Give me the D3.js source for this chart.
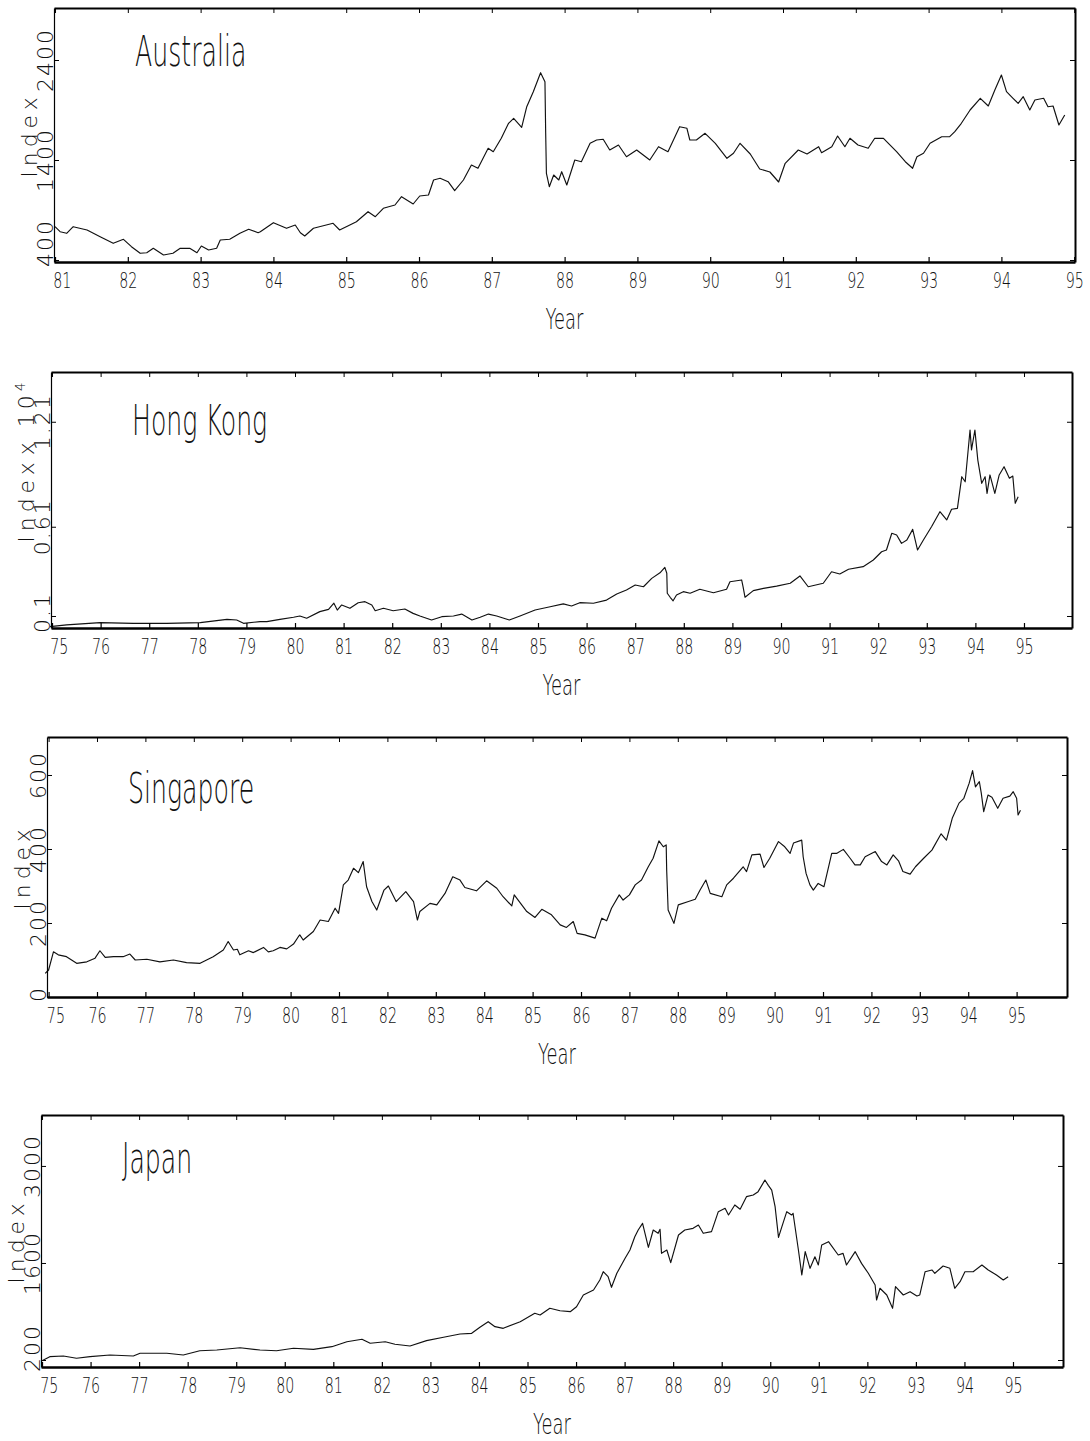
<!DOCTYPE html>
<html>
<head>
<meta charset="utf-8">
<script src="https://cdn.jsdelivr.net/npm/d3@7"></script>
<style>
body { margin: 0; background: #fff; }
svg { display: block; }
</style>
</head>
<body>
<svg id="chart" width="1090" height="1441"></svg>
<script>
// index values, [year, index]
var australiaData = [[81.0,733],[81.07,683],[81.16,667],[81.25,733],[81.44,700],[81.62,633],[81.8,567],[81.94,607],[82.05,533],[82.17,467],[82.26,473],[82.35,517],[82.49,450],[82.62,467],[82.72,517],[82.85,517],[82.95,473],[83.01,540],[83.11,500],[83.22,517],[83.27,600],[83.4,607],[83.54,667],[83.66,707],[83.79,673],[83.82,683],[84.0,773],[84.18,717],[84.3,750],[84.37,673],[84.43,640],[84.55,717],[84.82,767],[84.91,700],[85.14,783],[85.3,883],[85.4,833],[85.51,917],[85.67,950],[85.76,1033],[85.92,960],[86.01,1040],[86.13,1050],[86.2,1200],[86.29,1217],[86.4,1183],[86.49,1093],[86.61,1200],[86.72,1350],[86.81,1317],[86.95,1517],[87.02,1483],[87.13,1617],[87.23,1767],[87.3,1817],[87.41,1727],[87.48,1933],[87.57,2083],[87.67,2273],[87.73,2183],[87.74,1670],[87.75,1267],[87.79,1133],[87.85,1250],[87.92,1200],[87.96,1283],[88.03,1150],[88.14,1400],[88.23,1383],[88.35,1567],[88.44,1600],[88.53,1607],[88.62,1500],[88.74,1550],[88.85,1433],[88.99,1500],[89.17,1400],[89.29,1533],[89.42,1483],[89.58,1733],[89.68,1717],[89.72,1600],[89.81,1600],[89.93,1667],[90.07,1567],[90.23,1417],[90.32,1467],[90.41,1567],[90.55,1460],[90.68,1310],[90.82,1280],[90.94,1180],[91.03,1367],[91.21,1500],[91.33,1460],[91.49,1533],[91.53,1473],[91.67,1533],[91.75,1640],[91.85,1533],[91.92,1617],[92.03,1550],[92.17,1517],[92.26,1617],[92.38,1617],[92.56,1483],[92.68,1383],[92.78,1317],[92.84,1433],[92.93,1467],[93.02,1567],[93.18,1633],[93.29,1633],[93.36,1683],[93.45,1767],[93.57,1900],[93.71,2017],[93.82,1940],[93.91,2100],[94.0,2250],[94.07,2083],[94.16,2017],[94.23,1967],[94.3,2033],[94.39,1900],[94.46,2000],[94.58,2017],[94.64,1933],[94.71,1940],[94.79,1750],[94.83,1800],[94.87,1850]];

// Hong Kong in units of 10^4
var hongKongData = [[74.96,0.039],[75.3,0.049],[75.99,0.062],[76.67,0.058],[77.36,0.058],[78.05,0.062],[78.6,0.081],[78.8,0.077],[78.94,0.058],[79.28,0.068],[79.42,0.068],[79.69,0.081],[79.97,0.093],[80.1,0.1],[80.24,0.087],[80.51,0.125],[80.69,0.138],[80.8,0.173],[80.87,0.134],[80.96,0.163],[81.13,0.144],[81.3,0.176],[81.44,0.182],[81.58,0.163],[81.65,0.13],[81.82,0.144],[82.02,0.13],[82.26,0.14],[82.43,0.115],[82.57,0.1],[82.81,0.077],[83.02,0.096],[83.26,0.1],[83.43,0.111],[83.64,0.077],[83.81,0.093],[83.98,0.111],[84.15,0.1],[84.41,0.077],[84.63,0.1],[84.94,0.134],[85.25,0.153],[85.52,0.169],[85.69,0.157],[85.86,0.176],[86.14,0.173],[86.41,0.191],[86.62,0.226],[86.82,0.249],[87.0,0.277],[87.17,0.267],[87.34,0.315],[87.51,0.347],[87.61,0.378],[87.65,0.344],[87.66,0.23],[87.72,0.207],[87.78,0.187],[87.85,0.22],[87.99,0.239],[88.13,0.23],[88.33,0.253],[88.61,0.233],[88.88,0.253],[88.95,0.296],[89.19,0.306],[89.22,0.267],[89.26,0.207],[89.43,0.245],[89.64,0.258],[89.91,0.271],[90.19,0.287],[90.39,0.329],[90.56,0.267],[90.87,0.287],[91.04,0.353],[91.21,0.34],[91.39,0.367],[91.69,0.382],[91.9,0.42],[92.07,0.467],[92.17,0.477],[92.28,0.573],[92.38,0.563],[92.48,0.515],[92.59,0.534],[92.71,0.595],[92.81,0.477],[92.93,0.534],[93.1,0.611],[93.27,0.696],[93.41,0.649],[93.51,0.71],[93.63,0.715],[93.72,0.896],[93.79,0.867],[93.89,1.163],[93.92,1.049],[93.99,1.163],[94.05,0.991],[94.13,0.858],[94.2,0.896],[94.24,0.801],[94.3,0.906],[94.4,0.801],[94.49,0.906],[94.59,0.953],[94.7,0.887],[94.77,0.9],[94.82,0.744],[94.88,0.782]];

var singaporeData = [[74.93,64],[75.0,73],[75.1,122],[75.2,114],[75.37,109],[75.58,91],[75.79,95],[75.96,105],[76.06,125],[76.17,107],[76.34,109],[76.54,109],[76.68,116],[76.79,100],[77.03,102],[77.3,95],[77.58,100],[77.85,93],[78.13,91],[78.4,109],[78.61,127],[78.71,150],[78.82,127],[78.9,129],[78.95,114],[79.13,125],[79.23,120],[79.44,134],[79.54,122],[79.64,125],[79.78,134],[79.92,130],[80.06,143],[80.16,163],[80.19,168],[80.26,154],[80.47,177],[80.61,208],[80.78,204],[80.92,240],[80.99,226],[81.09,303],[81.19,316],[81.3,348],[81.4,336],[81.5,366],[81.57,298],[81.68,258],[81.78,235],[81.93,289],[82.02,300],[82.18,258],[82.38,285],[82.54,258],[82.62,208],[82.67,231],[82.88,253],[83.02,249],[83.19,280],[83.35,325],[83.5,316],[83.6,296],[83.84,287],[84.05,314],[84.26,294],[84.39,271],[84.57,246],[84.62,276],[84.88,231],[85.05,215],[85.19,237],[85.39,222],[85.57,195],[85.7,188],[85.84,204],[85.92,172],[86.08,168],[86.29,159],[86.43,213],[86.53,206],[86.63,240],[86.79,276],[86.87,262],[87.0,276],[87.12,303],[87.25,316],[87.39,352],[87.49,375],[87.61,422],[87.7,406],[87.76,411],[87.77,343],[87.8,235],[87.92,199],[88.01,249],[88.22,258],[88.36,264],[88.46,289],[88.58,316],[88.67,280],[88.91,271],[89.01,303],[89.15,321],[89.35,352],[89.42,339],[89.53,384],[89.7,386],[89.78,350],[89.9,375],[90.08,420],[90.21,406],[90.32,388],[90.39,416],[90.56,424],[90.59,379],[90.65,334],[90.73,303],[90.8,289],[90.9,307],[91.02,298],[91.18,388],[91.28,388],[91.42,399],[91.56,375],[91.66,357],[91.77,357],[91.87,379],[92.08,393],[92.21,366],[92.32,357],[92.45,384],[92.56,368],[92.65,339],[92.8,332],[92.91,352],[93.08,375],[93.25,397],[93.44,441],[93.55,424],[93.67,483],[93.81,524],[93.91,537],[94.02,578],[94.09,612],[94.15,568],[94.23,582],[94.27,551],[94.32,501],[94.41,546],[94.49,540],[94.61,510],[94.72,537],[94.86,543],[94.93,555],[95.0,537],[95.03,492],[95.08,505]];

var japanData = [[75.0,190],[75.16,248],[75.44,258],[75.71,225],[75.99,248],[76.4,272],[76.88,258],[77.02,297],[77.57,297],[77.91,272],[78.25,334],[78.6,344],[79.08,377],[79.49,344],[79.83,334],[80.18,369],[80.59,354],[80.97,392],[81.28,464],[81.59,499],[81.76,441],[82.07,464],[82.27,427],[82.58,402],[82.92,479],[83.27,528],[83.61,575],[83.85,585],[84.02,672],[84.19,753],[84.33,681],[84.5,657],[84.85,753],[85.15,874],[85.26,850],[85.46,946],[85.67,911],[85.88,897],[86.01,969],[86.15,1138],[86.36,1210],[86.49,1354],[86.56,1474],[86.66,1402],[86.73,1249],[86.84,1451],[87.01,1667],[87.11,1787],[87.21,1979],[87.28,2076],[87.37,2172],[87.42,2028],[87.49,1826],[87.59,2076],[87.69,2028],[87.73,2086],[87.76,1739],[87.87,1787],[87.95,1604],[88.11,2004],[88.24,2076],[88.41,2100],[88.52,2148],[88.62,2028],[88.79,2052],[88.93,2340],[89.07,2389],[89.14,2292],[89.27,2437],[89.38,2375],[89.51,2557],[89.65,2581],[89.75,2629],[89.89,2797],[89.96,2720],[90.03,2650],[90.1,2412],[90.17,1970],[90.24,2124],[90.34,2340],[90.44,2292],[90.47,2317],[90.58,1787],[90.65,1427],[90.72,1763],[90.82,1523],[90.92,1690],[90.99,1571],[91.06,1859],[91.2,1907],[91.4,1715],[91.5,1739],[91.57,1571],[91.75,1763],[91.88,1594],[92.02,1451],[92.16,1282],[92.19,1066],[92.26,1235],[92.4,1138],[92.52,946],[92.58,1258],[92.74,1138],[92.88,1186],[93.02,1124],[93.08,1138],[93.19,1474],[93.33,1499],[93.39,1451],[93.56,1556],[93.7,1523],[93.8,1235],[93.91,1330],[94.01,1474],[94.18,1474],[94.36,1571],[94.49,1499],[94.66,1427],[94.8,1354],[94.9,1402]];

var ausYears = [81,82,83,84,85,86,87,88,89,90,91,92,93,94,95];
var longYears = [75,76,77,78,79,80,81,82,83,84,85,86,87,88,89,90,91,92,93,94,95];

var ausTicks = [400, 1400, 2400];
var hkTicks = [0.1, 0.61, 1.21];
var singTicks = [0, 200, 400, 600];
var japanTicks = [200, 1600, 3000];

// frame positions follow the slightly skewed scan
var panels = [
  {name: "Australia", data: australiaData, years: ausYears, yTicks: ausTicks,
   left: 54, right: 1075, top: 8, bottom: 262, xDom: [80.986, 95.011], yDom: [380, 2920], titleDy: 58},
  {name: "Hong Kong", data: hongKongData, years: longYears, yTicks: hkTicks, power: "4",
   left: 51, right: 1072, top: 372, bottom: 628, xDom: [74.979, 95.988], yDom: [0.0314, 1.4943], titleDy: 63},
  {name: "Singapore", data: singaporeData, years: longYears, yTicks: singTicks,
   left: 47, right: 1067, top: 737, bottom: 997, xDom: [74.967, 96.041], yDom: [0, 702.7], titleDy: 66},
  {name: "Japan", data: japanData, years: longYears, yTicks: japanTicks,
   left: 41, right: 1063, top: 1115, bottom: 1367, xDom: [74.979, 96.03], yDom: [99, 3735], titleDy: 58}
];

var svg = d3.select("#chart");
var thinFont = "'DejaVu Sans', sans-serif";

function condensed(g, str, x, y, size, sx, anchor) {
  return g.append("text")
    .attr("transform", "translate(" + x + "," + y + ") scale(" + sx + ",1)")
    .attr("text-anchor", anchor || "start")
    .attr("font-family", thinFont)
    .attr("font-weight", 200)
    .attr("font-size", size)
    .attr("fill", "#111")
    .text(str);
}

panels.forEach(function(p) {
  var x = d3.scaleLinear().domain(p.xDom).range([p.left, p.right]);
  var y = d3.scaleLinear().domain(p.yDom).range([p.bottom, p.top]);
  var g = svg.append("g");

  g.append("path")
    .datum(p.data)
    .attr("fill", "none")
    .attr("stroke", "#111")
    .attr("stroke-width", 1.15)
    .attr("stroke-linejoin", "round")
    .attr("d", d3.line().x(function(d) { return x(d[0]); }).y(function(d) { return y(d[1]); }));

  // frame = axis domains, ticks point inward
  var bottomAx = g.append("g").attr("transform", "translate(0," + p.bottom + ")")
    .call(d3.axisBottom(x).tickValues(p.years).tickSizeInner(-5).tickSizeOuter(0).tickPadding(11).tickFormat(d3.format("d")));
  bottomAx.select(".domain").attr("stroke-width", 2.5);
  bottomAx.selectAll(".tick line").attr("stroke-width", 1.2);
  bottomAx.selectAll("text")
    .attr("font-family", thinFont).attr("font-weight", 200).attr("font-size", 21).attr("fill", "#111")
    .attr("transform", "scale(0.68,1)");
  // first year label sits right of the corner
  bottomAx.selectAll(".tick text").filter(function(d, i) { return i === 0; }).attr("x", 10);

  var topAx = g.append("g").attr("transform", "translate(0," + p.top + ")")
    .call(d3.axisTop(x).tickValues(p.years).tickSizeInner(-5).tickSizeOuter(0).tickFormat(""));
  topAx.select(".domain").attr("stroke-width", 2);

  var leftAx = g.append("g").attr("transform", "translate(" + p.left + ",0)")
    .call(d3.axisLeft(y).tickValues(p.yTicks).tickSizeInner(-5).tickSizeOuter(0).tickFormat(""));
  leftAx.select(".domain").attr("stroke-width", 1.2);

  var rightAx = g.append("g").attr("transform", "translate(" + p.right + ",0)")
    .call(d3.axisRight(y).tickValues(p.yTicks).tickSizeInner(-5).tickSizeOuter(0).tickFormat(""));
  rightAx.select(".domain").attr("stroke-width", 2);

  // rotated y tick labels
  p.yTicks.forEach(function(v) {
    var t = g.append("text")
      .attr("font-family", thinFont).attr("font-weight", 200).attr("font-size", 22).attr("letter-spacing", 2)
      .attr("text-anchor", "middle").attr("fill", "#111")
      .text(String(v));
    var half = t.node().getComputedTextLength() / 2;
    var cy = Math.min(y(v), p.bottom + 5 - half);
    t.attr("transform", "translate(" + (p.left - 1) + "," + cy + ") rotate(-90)");
  });

  // Index label
  var cy = (p.top + p.bottom) / 2;
  var lab = g.append("text")
    .attr("font-family", thinFont).attr("font-weight", 200).attr("font-size", 22).attr("letter-spacing", 5)
    .attr("text-anchor", "middle").attr("fill", "#111")
    .attr("transform", "translate(" + (p.left - 17) + "," + cy + ") rotate(-90)")
    .text("Index");
  if (p.power) {
    var len = lab.node().getComputedTextLength();
    var ext = g.append("text")
      .attr("font-family", thinFont).attr("font-weight", 200).attr("font-size", 22).attr("letter-spacing", 4)
      .attr("fill", "#111")
      .attr("transform", "translate(" + (p.left - 17) + "," + (cy - len / 2 - 2) + ") rotate(-90)");
    ext.append("tspan").text("x 10");
    ext.append("tspan").attr("dy", -9).attr("font-size", 14).text(p.power);
  }

  condensed(g, p.name, p.left + 81, p.top + p.titleDy, 42, 0.6, "start");
  condensed(g, "Year", (p.left + p.right) / 2, p.bottom + 67, 28, 0.64, "middle");
});
</script>
</body>
</html>
